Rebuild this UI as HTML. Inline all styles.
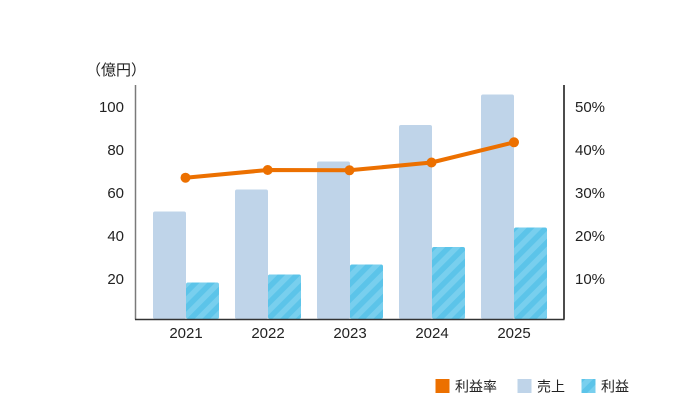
<!DOCTYPE html>
<html>
<head>
<meta charset="utf-8">
<style>
html,body{margin:0;padding:0;background:#fff;}
svg{display:block;}
text{font-family:"Liberation Sans","Noto Sans CJK JP",sans-serif;fill:#222;}
</style>
</head>
<body>
<svg width="700" height="400" viewBox="0 0 700 400" xmlns="http://www.w3.org/2000/svg">
<defs>
<pattern id="st" patternUnits="userSpaceOnUse" width="11" height="11" patternTransform="rotate(45)">
<rect x="0" y="0" width="11" height="11" fill="#5CC4E9"/>
<rect x="0" y="0" width="5.5" height="11" fill="#78CFEE"/>
</pattern>
</defs>

<!-- unit label -->
<text x="86" y="75" font-size="15">（億円）</text>

<!-- left tick labels -->
<g font-size="15" text-anchor="end">
<text x="124" y="112">100</text>
<text x="124" y="155">80</text>
<text x="124" y="198">60</text>
<text x="124" y="241">40</text>
<text x="124" y="284">20</text>
</g>
<!-- right tick labels -->
<g font-size="15" text-anchor="start">
<text x="575" y="112">50%</text>
<text x="575" y="155">40%</text>
<text x="575" y="198">30%</text>
<text x="575" y="241">20%</text>
<text x="575" y="284">10%</text>
</g>

<!-- bars: light (sales) -->
<g fill="#BFD4E9">
<rect x="153" y="211.5" width="33" height="107.5" rx="2"/>
<rect x="235" y="189.5" width="33" height="129.5" rx="2"/>
<rect x="317" y="161.5" width="33" height="157.5" rx="2"/>
<rect x="399" y="125" width="33" height="194" rx="2"/>
<rect x="481" y="94.5" width="33" height="224.5" rx="2"/>
</g>
<!-- bars: teal (profit) -->
<g fill="url(#st)">
<rect x="186" y="282.5" width="33" height="36.5" rx="2"/>
<rect x="268" y="274.5" width="33" height="44.5" rx="2"/>
<rect x="350" y="264.5" width="33" height="54.5" rx="2"/>
<rect x="432" y="247" width="33" height="72" rx="2"/>
<rect x="514" y="227.5" width="33" height="91.5" rx="2"/>
</g>

<!-- axes -->
<line x1="135.5" y1="85" x2="135.5" y2="319.5" stroke="#7a7a7a" stroke-width="1.5"/>
<line x1="564" y1="85" x2="564" y2="319.5" stroke="#111" stroke-width="1.5"/>
<line x1="135" y1="319.5" x2="564.5" y2="319.5" stroke="#333" stroke-width="1.5"/>

<!-- x labels -->
<g font-size="15" text-anchor="middle">
<text x="186" y="338">2021</text>
<text x="268" y="338">2022</text>
<text x="350" y="338">2023</text>
<text x="432" y="338">2024</text>
<text x="514" y="338">2025</text>
</g>

<!-- line -->
<polyline points="185.5,177.7 267.7,170 349.5,170.3 431.5,162.5 514,142.3" fill="none" stroke="#EC7000" stroke-width="4" stroke-linejoin="round"/>
<g fill="#EC7000">
<circle cx="185.5" cy="177.7" r="5"/>
<circle cx="267.7" cy="170" r="5"/>
<circle cx="349.5" cy="170.3" r="5"/>
<circle cx="431.5" cy="162.5" r="5"/>
<circle cx="514" cy="142.3" r="5"/>
</g>

<!-- legend -->
<rect x="435.5" y="379" width="14" height="14" fill="#EC7000"/>
<text x="455" y="391.5" font-size="14">利益率</text>
<rect x="517.5" y="379" width="14" height="14" fill="#BFD4E9"/>
<text x="537" y="391.5" font-size="14">売上</text>
<rect x="581.5" y="379" width="14" height="14" fill="url(#st)"/>
<text x="601" y="391.5" font-size="14">利益</text>
</svg>
</body>
</html>
